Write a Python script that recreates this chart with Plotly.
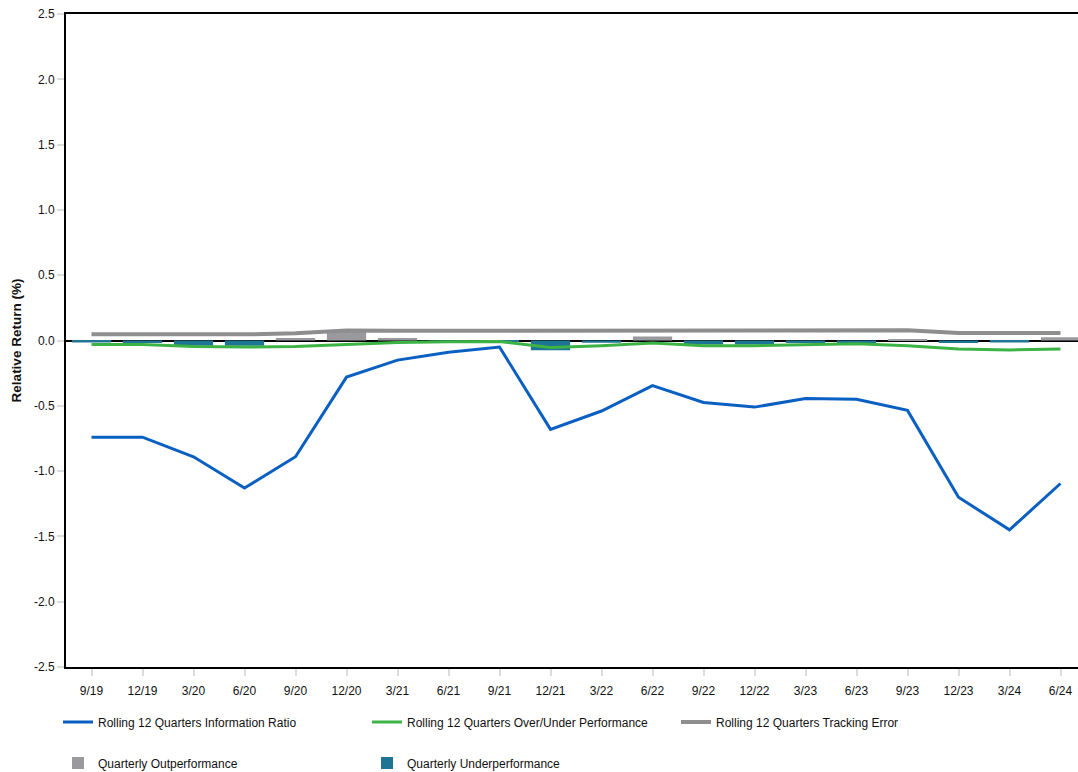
import plotly.graph_objects as go

quarters = ["9/19", "12/19", "3/20", "6/20", "9/20", "12/20", "3/21", "6/21", "9/21", "12/21",
            "3/22", "6/22", "9/22", "12/22", "3/23", "6/23", "9/23", "12/23", "3/24", "6/24"]
info_ratio = [-0.74, -0.74, -0.89, -1.13, -0.89, -0.28, -0.15, -0.09, -0.05, -0.68,
              -0.54, -0.345, -0.475, -0.51, -0.445, -0.45, -0.535, -1.20, -1.45, -1.095]
over_under = [-0.03, -0.03, -0.045, -0.05, -0.045, -0.03, -0.015, -0.01, -0.007, -0.053,
              -0.04, -0.02, -0.04, -0.04, -0.03, -0.025, -0.04, -0.065, -0.072, -0.065]
tracking_error = [0.047, 0.047, 0.047, 0.047, 0.055, 0.076, 0.074, 0.074, 0.074, 0.074,
                  0.074, 0.075, 0.08, 0.08, 0.08, 0.08, 0.078, 0.057, 0.057, 0.057]
quarterly_relative = [-0.015, -0.02, -0.04, -0.04, 0.02, 0.077, 0.02, -0.02, -0.01, -0.075,
                      -0.018, 0.03, -0.03, -0.03, -0.02, -0.02, 0.01, -0.02, -0.015, 0.025]
y_ticks = [2.5, 2.0, 1.5, 1.0, 0.5, 0.0, -0.5, -1.0, -1.5, -2.0, -2.5]
y_tick_labels = ["2.5", "2.0", "1.5", "1.0", "0.5", "0.0", "-0.5", "-1.0", "-1.5", "-2.0", "-2.5"]

outperf = [v if v > 0 else None for v in quarterly_relative]
underperf = [v if v < 0 else None for v in quarterly_relative]

BLUE = "#0a5fc2"
GREEN = "#3db346"
GREY_LINE = "#8e8e8e"
GREY_BAR = "#9a9a9e"
TEAL = "#1f7494"

FONT = "Liberation Sans, Arial, sans-serif"
FIG_W, FIG_H = 1078, 772

fig = go.Figure()

fig.add_trace(go.Bar(x=quarters, y=outperf, name="Quarterly Outperformance",
                     marker=dict(color=GREY_BAR, line=dict(width=0)), width=0.77,
                     legend="legend4"))
fig.add_trace(go.Bar(x=quarters, y=underperf, name="Quarterly Underperformance",
                     marker=dict(color=TEAL, line=dict(width=0)), width=0.77,
                     legend="legend5"))
fig.add_trace(go.Scatter(x=quarters, y=tracking_error, mode="lines",
                         name="Rolling 12 Quarters Tracking Error",
                         line=dict(color=GREY_LINE, width=4), legend="legend3"))
fig.add_trace(go.Scatter(x=quarters, y=over_under, mode="lines",
                         name="Rolling 12 Quarters Over/Under Performance",
                         line=dict(color=GREEN, width=3), legend="legend2"))
fig.add_trace(go.Scatter(x=quarters, y=info_ratio, mode="lines",
                         name="Rolling 12 Quarters Information Ratio",
                         line=dict(color=BLUE, width=3), legend="legend"))

# plot area spans x = 66..1078 px, y = 14..667 px
L, R, T, B = 66, 1078, 14, 667
W = R - L


def legend_at(px, py):
    # legend placed by page pixel position (left edge, vertical middle)
    return dict(x=px / FIG_W, y=1 - py / FIG_H, xref="container", yref="container",
                orientation="h", xanchor="left", yanchor="middle",
                bgcolor="rgba(0,0,0,0)", borderwidth=0, visible=True,
                font=dict(family=FONT, size=12, color="#111111"))


fig.update_layout(
    width=FIG_W, height=FIG_H,
    margin=dict(l=L, r=0, t=T, b=FIG_H - B),
    paper_bgcolor="white", plot_bgcolor="white",
    barmode="relative",
    showlegend=True,
    font=dict(family=FONT, size=12, color="#111111"),
    legend=legend_at(58, 722),
    legend2=legend_at(367, 722),
    legend3=legend_at(676, 722),
    legend4=legend_at(58, 763),
    legend5=legend_at(367, 763),
    xaxis=dict(
        type="category", categoryorder="array", categoryarray=quarters,
        range=[-0.5, -0.5 + W / 51.0],
        showline=True, linecolor="black", linewidth=2, mirror=True,
        ticks="outside", ticklen=7, tickwidth=2, tickcolor="#dcdcdc",
        ticklabelstandoff=5,
        showgrid=False, zeroline=False,
        tickfont=dict(family=FONT, size=12, color="#111111"),
    ),
    yaxis=dict(
        range=[-2.5, 2.5], tickvals=y_ticks, ticktext=y_tick_labels,
        showline=True, linecolor="black", linewidth=2,
        ticks="outside", ticklen=7, tickwidth=2, tickcolor="#dcdcdc",
        showgrid=False,
        zeroline=True, zerolinecolor="black", zerolinewidth=1.5,
        tickfont=dict(family=FONT, size=12, color="#111111"),
        title=dict(text="<b>Relative Return (%)</b>",
                   font=dict(family=FONT, size=13.5, color="#111111"),
                   standoff=9),
    ),
)

fig.write_html("out.html")
